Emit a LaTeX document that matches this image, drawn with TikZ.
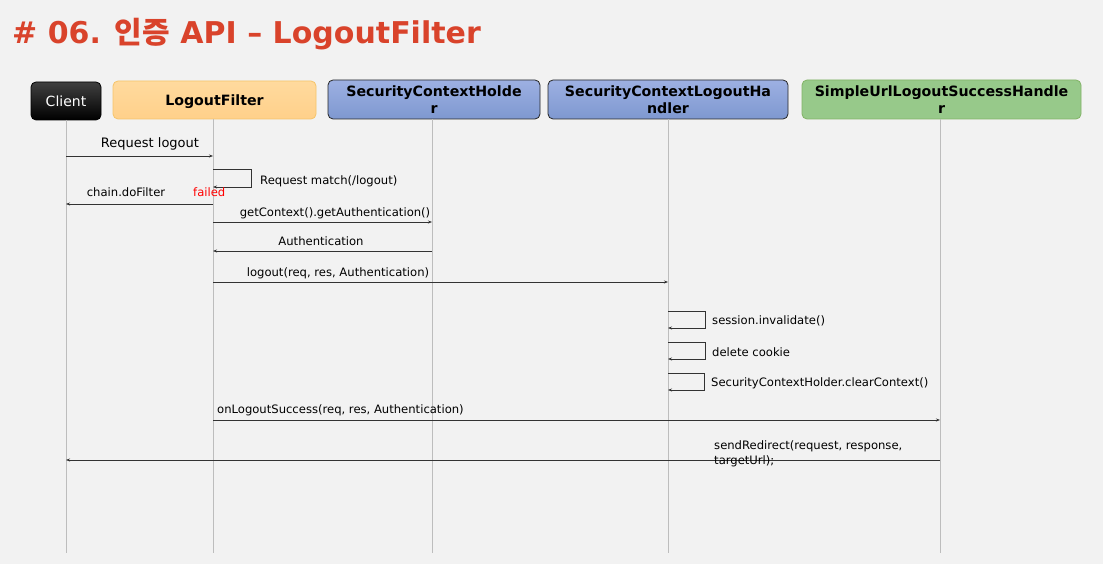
\documentclass[tikz,border=0pt]{standalone}
\usepackage{fontspec}
\setmainfont{DejaVu Sans}
\newfontfamily\cjk{Noto Sans CJK KR Bold}
\usetikzlibrary{arrows.meta}
\definecolor{bg}{HTML}{F2F2F2}
\definecolor{titlered}{HTML}{D9432B}
\definecolor{orfill}{HTML}{FFD08A}
\definecolor{ortop}{HTML}{FFDA9E}
\definecolor{ordraw}{HTML}{F5C46A}
\definecolor{blfill}{HTML}{7E98D0}
\definecolor{bltop}{HTML}{9DB0E2}
\definecolor{grfill}{HTML}{97C98A}
\definecolor{grdraw}{HTML}{82B366}
\definecolor{lifegray}{HTML}{BDBDBD}
\definecolor{msgcol}{HTML}{333333}
\begin{document}
\begin{tikzpicture}[x=1pt,y=-1pt,
  head/.style={rounded corners=5pt, minimum height=38pt, inner sep=0pt, align=center,
     font=\fontsize{14.2}{17}\selectfont\bfseries, line width=0.8pt},
  life/.style={lifegray, line width=1pt},
  msg/.style={msgcol, line width=0.8pt, -{Stealth[length=4pt,width=3pt]}},
  lbl/.style={inner sep=0pt, font=\fontsize{11.6}{14}\selectfont, text=black}
]
\fill[bg] (0,0) rectangle (1103,564);
\useasboundingbox (0,0) rectangle (1103,564);

\node[anchor=west, inner sep=0pt, text=titlered, font=\fontsize{30}{34}\selectfont\bfseries] (title) at (12,34)
  {\# 06. {\cjk 인증} API – LogoutFilter};

% heads
\node[head, minimum width=70pt, top color=black!75, bottom color=black, draw=black, text=white,
   font=\fontsize{14}{17}\selectfont, text depth=0pt] (client) at (66,101) {Client};
\node[head, minimum width=203pt, top color=ortop, bottom color=orfill, draw=ordraw, text depth=0pt] (filter) at (214.5,100) {LogoutFilter};
\node[head, minimum width=212pt, minimum height=39pt, top color=bltop, bottom color=blfill, draw=black!85] (sch) at (434,99.5) {SecurityContextHolde\\r};
\node[head, minimum width=240pt, minimum height=39pt, top color=bltop, bottom color=blfill, draw=black!85] (sclh) at (668,99.5) {SecurityContextLogoutHa\\ndler};
\node[head, minimum width=279pt, minimum height=39pt, fill=grfill, draw=grdraw] (sush) at (941.5,99.5) {SimpleUrlLogoutSuccessHandle\\r};

% lifeline ends
\coordinate (clientE) at (66,553);
\coordinate (filterE) at (213,553);
\coordinate (schE) at (432,553);
\coordinate (sclhE) at (668,553);
\coordinate (sushE) at (940,553);
\draw[life] (66,120) -- (clientE);
\draw[life] (213,119) -- (filterE);
\draw[life] (432,119) -- (schE);
\draw[life] (668,119) -- (sclhE);
\draw[life] (940,119) -- (sushE);

% 1
\coordinate (m1a) at (66,156); \coordinate (m1b) at (213,156);
\draw[msg] (m1a) -- (m1b);
\node[lbl, font=\fontsize{13}{15}\selectfont] (l1) at (150,144) {Request logout};
% 2 self loop
\coordinate (s2a) at (213,169); \coordinate (s2b) at (251,169); \coordinate (s2c) at (251,187); \coordinate (s2d) at (213,187);
\draw[msg] (s2a) -- (s2b) -- (s2c) -- (s2d);
\node[lbl, anchor=west] (l2) at (260,181) {Request match(/logout)};
% 3
\coordinate (m3a) at (213,204); \coordinate (m3b) at (66,204);
\draw[msg] (m3a) -- (m3b);
\node[lbl] (l3) at (126,192) {chain.doFilter};
\node[lbl, text=red, anchor=west] (l3b) at (193,192) {failed};
% 4
\coordinate (m4a) at (213,222); \coordinate (m4b) at (432,222);
\draw[msg] (m4a) -- (m4b);
\node[lbl] (l4) at (335,213) {getContext().getAuthentication()};
% 5
\coordinate (m5a) at (432,251); \coordinate (m5b) at (213,251);
\draw[msg] (m5a) -- (m5b);
\node[lbl] (l5) at (321,241) {Authentication};
% 6
\coordinate (m6a) at (213,282); \coordinate (m6b) at (668,282);
\draw[msg] (m6a) -- (m6b);
\node[lbl] (l6) at (338,273) {logout(req, res, Authentication)};
% 7-9 self loops
\coordinate (s7a) at (668,311); \coordinate (s7b) at (705,311); \coordinate (s7c) at (705,328); \coordinate (s7d) at (668,328);
\draw[msg] (s7a) -- (s7b) -- (s7c) -- (s7d);
\node[lbl, anchor=west] (l7) at (712,321) {session.invalidate()};
\coordinate (s8a) at (668,342); \coordinate (s8b) at (705,342); \coordinate (s8c) at (705,359); \coordinate (s8d) at (668,359);
\draw[msg] (s8a) -- (s8b) -- (s8c) -- (s8d);
\node[lbl, anchor=west] (l8) at (712,352) {delete cookie};
\coordinate (s9a) at (668,373); \coordinate (s9b) at (704,373); \coordinate (s9c) at (704,390); \coordinate (s9d) at (668,390);
\draw[msg] (s9a) -- (s9b) -- (s9c) -- (s9d);
\node[lbl, anchor=west] (l9) at (711,383) {SecurityContextHolder.clearContext()};
% 10
\coordinate (m10a) at (213,420); \coordinate (m10b) at (940,420);
\draw[msg] (m10a) -- (m10b);
\node[lbl, anchor=west] (l10) at (217,410) {onLogoutSuccess(req, res, Authentication)};
% 11
\coordinate (m11a) at (940,460); \coordinate (m11b) at (66,460);
\draw[msg] (m11a) -- (m11b);
\node[lbl, anchor=north west, align=left, font=\fontsize{11.6}{15}\selectfont] (l11) at (714,440) {sendRedirect(request, response,\\targetUrl);};
\end{tikzpicture}
\end{document}
